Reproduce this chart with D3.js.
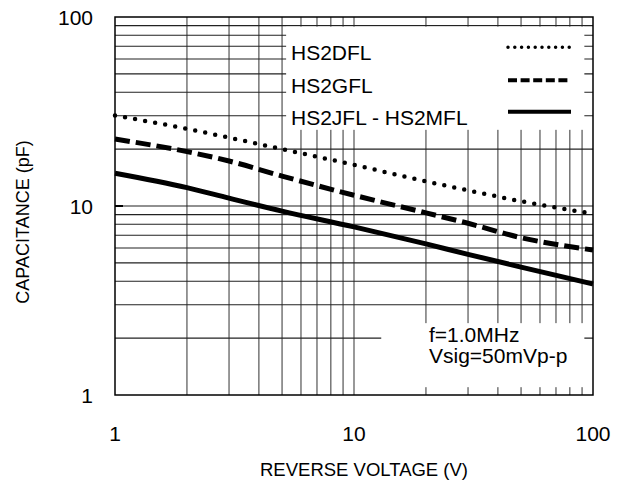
<!DOCTYPE html>
<html>
<head>
<meta charset="utf-8">
<script src="https://cdn.jsdelivr.net/npm/d3@7"></script>
<style>
  body { margin: 0; background: #fff; }
  svg text { font-family: "Liberation Sans", Arial, sans-serif; fill: #000; }
</style>
</head>
<body>
<svg id="chart" width="622" height="482"></svg>
<script>
// reverse voltage (V) vs junction capacitance (pF), log-log
const voltage = [1, 2, 3, 5, 10, 20, 30, 50, 100];
const capDFL = [30.1, 25.6, 23.0, 20.0, 16.5, 13.5, 12.1, 10.6, 9.1];
const capGFL = [22.6, 19.4, 17.3, 14.4, 11.4, 9.2, 8.1, 6.8, 5.85];
const capJFL = [14.9, 12.5, 11.0, 9.4, 7.75, 6.3, 5.55, 4.75, 3.87];

const xTicks = [1, 10, 100];
const yTicks = [1, 10, 100];
const seriesNames = ["HS2DFL", "HS2GFL", "HS2JFL - HS2MFL"];
const noteLines = ["f=1.0MHz", "Vsig=50mVp-p"];

const margin = { top: 17, right: 29, bottom: 87, left: 115 };
const width = 622 - margin.left - margin.right,
    height = 482 - margin.top - margin.bottom;

const svg = d3.select("#chart");
const g = svg.append("g")
    .attr("transform", "translate(" + margin.left + "," + margin.top + ")");

const x = d3.scaleLog().domain([1, 100]).range([0, width]);
const y = d3.scaleLog().domain([1, 100]).range([height, 0]);

// minor + major grid values for each decade
let gridVals = [];
for (let dec of [1, 10]) {
    for (let k = 1; k <= 9; k++) gridVals.push(dec * k);
}
gridVals = gridVals.filter(v => v > 1);

g.append("g").selectAll("line")
    .data(gridVals)
    .enter().append("line")
    .attr("x1", d => x(d)).attr("x2", d => x(d))
    .attr("y1", 0).attr("y2", height)
    .attr("stroke", "#444").attr("stroke-width", 1.1);

g.append("g").selectAll("line")
    .data(gridVals)
    .enter().append("line")
    .attr("y1", d => y(d)).attr("y2", d => y(d))
    .attr("x1", 0).attr("x2", width)
    .attr("stroke", "#222").attr("stroke-width", 1.1);

// white panels behind the legend and the test-condition note
g.append("rect")
    .attr("x", x(5.2)).attr("y", y(90) + 1)
    .attr("width", x(92) - x(5.2)).attr("height", y(30) - y(90) + 13)
    .attr("fill", "#fff");
g.append("rect")
    .attr("x", x(13)).attr("y", y(2.4))
    .attr("width", x(92) - x(13)).attr("height", y(1.1) - y(2.4))
    .attr("fill", "#fff");

// short emphasis tick at C = 10
g.append("line")
    .attr("x1", 0).attr("x2", 8)
    .attr("y1", y(10)).attr("y2", y(10))
    .attr("stroke", "#000").attr("stroke-width", 2);

const line = d3.line()
    .x((d, i) => x(voltage[i]))
    .y(d => y(d))
    .curve(d3.curveMonotoneX);

g.append("path").datum(capDFL)
    .attr("d", line).attr("fill", "none")
    .attr("stroke", "#000").attr("stroke-width", 4.5)
    .attr("stroke-linecap", "round").attr("stroke-dasharray", "0 10.2");

g.append("path").datum(capGFL)
    .attr("d", line).attr("fill", "none")
    .attr("stroke", "#000").attr("stroke-width", 5)
    .attr("stroke-dasharray", "15 6");

g.append("path").datum(capJFL)
    .attr("d", line).attr("fill", "none")
    .attr("stroke", "#000").attr("stroke-width", 5);

// frame
g.append("rect")
    .attr("width", width).attr("height", height)
    .attr("fill", "none").attr("stroke", "#000").attr("stroke-width", 1.5);

// legend
const legendY = [y(70) + 14, y(70) + 47, y(30) + 9];
const legendStyles = [
    { w: 3.5, dash: "0 6.8", cap: "round" },
    { w: 4, dash: "9 3.6", cap: "butt" },
    { w: 4, dash: null, cap: "butt" }
];
seriesNames.forEach(function (name, i) {
    g.append("text")
        .attr("x", 176).attr("y", legendY[i])
        .attr("font-size", 21)
        .text(name);
    g.append("line")
        .attr("x1", 393).attr("x2", 456)
        .attr("y1", legendY[i] - 13).attr("y2", legendY[i] - 13)
        .attr("stroke", "#000").attr("stroke-width", legendStyles[i].w)
        .attr("stroke-linecap", legendStyles[i].cap)
        .attr("stroke-dasharray", legendStyles[i].dash);
});

noteLines.forEach(function (t, i) {
    g.append("text")
        .attr("x", 314).attr("y", 325 + i * 21)
        .attr("font-size", 21)
        .text(t);
});

// tick labels
svg.append("g").selectAll("text")
    .data(yTicks)
    .enter().append("text")
    .attr("x", 93).attr("y", d => margin.top + y(d) + 7.5)
    .attr("text-anchor", "end").attr("font-size", 21)
    .text(d => d);

svg.append("g").selectAll("text")
    .data(xTicks)
    .enter().append("text")
    .attr("x", d => margin.left + x(d)).attr("y", 441)
    .attr("text-anchor", "middle").attr("font-size", 21)
    .text(d => d);

// axis titles
svg.append("text")
    .attr("x", margin.left + width / 2 + 10).attr("y", 476)
    .attr("text-anchor", "middle").attr("font-size", 18.5)
    .text("REVERSE VOLTAGE (V)");

svg.append("text")
    .attr("transform", "translate(29,222) rotate(-90)")
    .attr("text-anchor", "middle").attr("font-size", 18)
    .text("CAPACITANCE (pF)");
</script>
</body>
</html>
